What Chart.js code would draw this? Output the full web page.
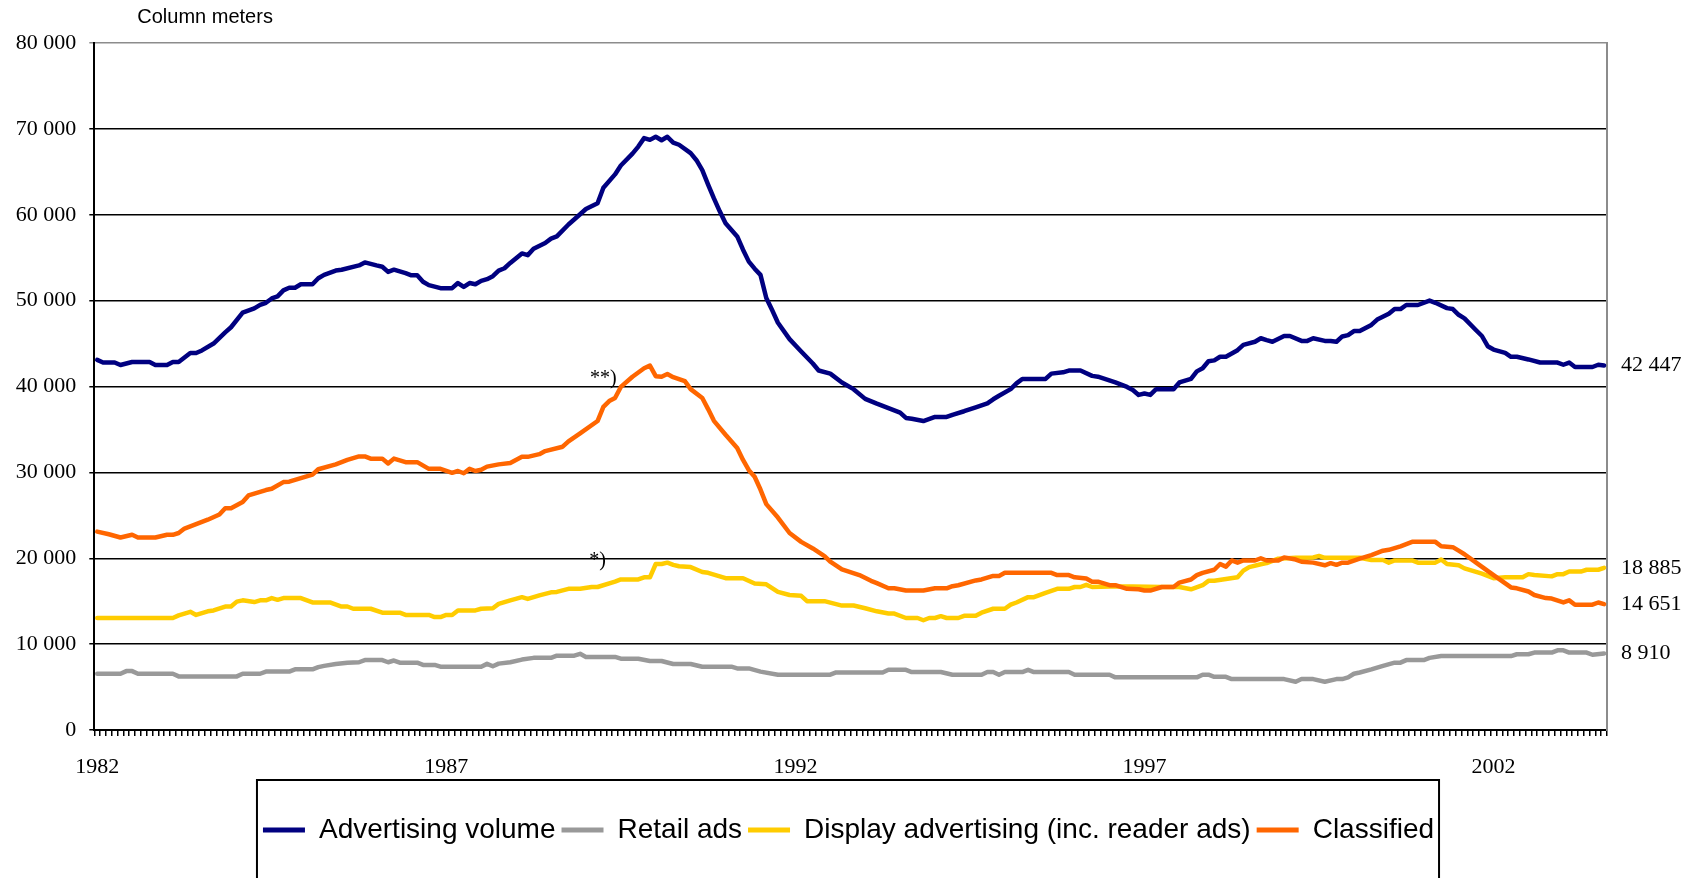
<!DOCTYPE html>
<html><head><meta charset="utf-8">
<script src="https://cdn.jsdelivr.net/npm/chart.js@4/dist/chart.umd.min.js"></script>
<style>html,body{margin:0;padding:0;background:#fff;}#wrap{width:1687px;height:878px;position:relative;}</style>
</head><body><div id="wrap"><canvas id="c" width="1687" height="878"></canvas></div>
<script>
// Categories: monthly, Jan 1982 .. Aug 2003 (260 months)
const months = [];
for (let i = 0; i < 260; i++) {
  months.push((1982 + Math.floor(i / 12)) + '-' + String(i % 12 + 1).padStart(2, '0'));
}
const tickLabels = ['1982', '1987', '1992', '1997', '2002'];

// Advertising volume (month index, column meters)
const advIdx = [0,1,3,4,6,9,10,12,13,14,16,17,18,20,22,23,25,27,28,29,30,31,32,33,34,35,37,38,39,41,42,45,46,48,49,50,51,53,54,55,56,57,59,61,62,63,64,65,66,67,68,69,70,71,73,74,75,77,78,79,81,83,84,86,87,89,90,92,93,94,95,96,97,98,99,100,102,103,104,105,106,107,108,110,111,112,113,114,115,116,117,119,121,123,124,126,128,130,132,134,136,138,139,140,142,144,146,147,149,151,153,154,155,157,158,159,163,164,166,167,169,171,172,175,177,178,179,180,181,182,185,186,188,189,190,191,192,193,194,196,197,199,200,201,202,204,205,207,208,209,211,212,213,214,215,216,217,219,220,222,223,224,225,227,229,230,232,233,234,235,237,238,239,240,242,243,244,246,248,251,252,253,254,257,258,259];
const advVal = [43100,42800,42800,42500,42850,42850,42500,42500,42850,42850,43900,43900,44200,45000,46300,46900,48600,49100,49500,49750,50250,50500,51200,51500,51500,51900,51900,52600,53000,53500,53600,54100,54450,54100,53950,53350,53600,53200,52950,52950,52200,51800,51450,51450,52050,51600,52050,51900,52300,52500,52840,53500,53770,54390,55500,55300,56030,56710,57220,57480,58870,60060,60670,61340,63150,64700,65730,67120,67940,68920,68720,69080,68670,69080,68410,68150,67170,66350,65200,63500,61900,60400,59020,57480,55930,54540,53720,53000,50300,48900,47430,45520,44080,42680,41860,41500,40470,39690,38560,38000,37480,36960,36340,36240,35980,36450,36450,36700,37120,37580,38040,38510,38920,39690,40360,40880,40880,41500,41650,41860,41860,41240,41140,40470,39950,39590,39020,39180,39020,39690,39690,40470,40880,41760,42120,42940,43040,43460,43460,44230,44850,45210,45620,45400,45210,45880,45880,45310,45310,45620,45310,45310,45210,45830,45980,46450,46450,47170,47790,48460,49020,49020,49490,49490,50000,49750,49130,49020,48350,47940,46550,45880,44690,44300,43920,43460,43460,43150,42790,42790,42530,42790,42270,42270,42530,42447];

// Retail ads
const retIdx = [0,4,5,6,7,13,14,24,25,28,29,33,34,37,38,39,41,43,45,46,49,50,51,52,55,56,58,59,66,67,68,69,71,73,75,78,79,82,83,84,89,90,93,95,97,99,102,104,109,110,112,114,117,126,127,135,136,139,140,145,147,152,153,154,155,156,159,160,161,167,168,174,175,189,190,191,192,194,195,201,204,206,207,209,211,213,214,215,216,217,219,221,223,224,225,228,229,231,243,244,246,247,250,251,252,253,256,257,259];
const retVal = [6550,6550,6860,6860,6550,6550,6240,6240,6550,6550,6800,6800,7060,7060,7320,7470,7680,7840,7890,8140,8140,7890,8090,7840,7840,7580,7580,7370,7370,7700,7420,7730,7890,8200,8400,8400,8660,8660,8870,8510,8510,8300,8300,8040,8040,7680,7680,7370,7370,7170,7170,6800,6440,6440,6700,6700,7010,7010,6750,6750,6440,6440,6750,6750,6440,6750,6750,7010,6750,6750,6440,6440,6130,6130,6440,6440,6190,6190,5930,5930,5930,5620,5930,5930,5620,5930,5930,6130,6550,6700,7060,7470,7840,7840,8140,8140,8400,8610,8610,8820,8820,9020,9020,9280,9280,9020,9020,8760,8910];

// Display advertising (inc. reader ads)
const dspIdx = [0,13,14,16,17,19,20,22,23,24,25,27,28,29,30,31,32,35,37,40,42,43,44,47,49,52,53,57,58,59,60,61,62,65,66,68,69,71,73,74,76,78,79,81,83,85,86,89,90,93,94,95,96,97,98,99,100,102,104,105,108,111,113,115,117,119,121,122,125,128,130,132,134,136,137,139,141,142,143,144,145,146,148,149,151,152,154,156,157,158,160,161,163,165,167,168,169,170,171,174,178,183,186,188,190,191,192,194,196,197,198,200,201,203,206,209,210,211,217,219,221,222,223,226,227,230,231,232,234,235,238,240,242,245,246,247,250,251,252,253,255,256,258,259];
const dspVal = [13040,13040,13350,13760,13400,13820,13920,14380,14380,14950,15100,14900,15100,15100,15360,15160,15360,15360,14850,14850,14380,14380,14120,14120,13660,13660,13400,13400,13150,13150,13400,13400,13920,13920,14120,14180,14690,15100,15470,15260,15670,16030,16080,16440,16440,16650,16650,17270,17530,17530,17780,17780,19330,19330,19490,19230,19070,18970,18400,18300,17680,17680,17060,16960,16080,15720,15620,15000,15000,14490,14490,14180,13820,13560,13560,13040,13040,12780,13040,13040,13250,13040,13040,13300,13300,13660,14120,14120,14590,14850,15470,15470,15980,16440,16440,16650,16650,16910,16650,16700,16700,16650,16650,16390,16860,17370,17370,17580,17780,18560,18970,19300,19430,19950,20050,20100,20260,20050,20050,19800,19800,19490,19740,19740,19490,19490,19850,19330,19180,18820,18200,17680,17780,17780,18150,18040,17890,18150,18150,18450,18450,18660,18660,18885];

// Classified
const clsIdx = [0,2,4,6,7,10,12,13,14,15,17,19,21,22,23,25,26,29,30,32,33,37,38,41,43,45,46,47,49,50,51,53,55,57,59,61,62,63,64,65,66,67,69,71,73,74,76,77,80,81,83,86,87,88,89,90,92,94,95,96,97,98,99,101,102,104,105,106,108,110,111,112,113,114,115,117,119,121,123,125,126,128,131,133,134,136,137,139,142,144,146,147,148,151,152,154,155,156,164,165,167,168,170,171,172,174,175,177,179,180,181,183,185,186,188,189,190,192,193,194,195,196,197,199,200,201,203,204,206,207,209,211,212,213,214,215,217,219,221,222,224,226,230,231,233,234,235,237,240,243,244,246,247,249,250,252,253,254,257,258,259];
const clsVal = [23100,22790,22420,22730,22420,22420,22730,22730,22940,23460,23970,24490,25100,25830,25830,26550,27320,27940,28090,28870,28920,29740,30360,30930,31450,31860,31860,31600,31600,31030,31600,31190,31190,30410,30410,29950,30160,29900,30410,30160,30300,30670,30930,31090,31810,31810,32120,32480,32990,33610,34540,35980,37630,38300,38660,39950,41140,42120,42430,41200,41140,41450,41090,40620,39690,38660,37370,36000,34380,32840,31450,30260,29490,28000,26300,24740,22940,21910,21140,20260,19600,18700,18040,17370,17100,16500,16500,16240,16240,16500,16500,16750,16860,17420,17530,17940,17940,18300,18300,18040,18040,17780,17630,17270,17270,16860,16860,16440,16390,16240,16240,16650,16650,17170,17530,18040,18300,18660,19330,19020,19740,19490,19740,19740,20000,19740,19740,20100,19850,19590,19490,19180,19430,19230,19490,19490,19950,20360,20880,20980,21390,21910,21910,21390,21290,20880,20470,19490,18040,16600,16500,16130,15720,15360,15310,14850,15100,14590,14590,14850,14651];

const fmt = v => String(v).replace(/\B(?=(\d{3})+(?!\d))/g, ' ');
const toPts = (idx, val) => idx.map((m, i) => ({x: months[m], y: val[i]}));
const SERIF = '"Liberation Serif", "Times New Roman", serif';
const SANS = '"Liberation Sans", Arial, sans-serif';

const extras = {
  id: 'extras',
  afterDraw(chart) {
    const c = chart.ctx, ca = chart.chartArea, ys = chart.scales.y, xs = chart.scales.x;
    c.save();
    c.fillStyle = '#000';
    // axis unit label
    c.font = '20px ' + SANS;
    c.textAlign = 'left'; c.textBaseline = 'middle';
    c.fillText('Column meters', ca.left + 43, 17);
    // end-value labels
    c.font = '22px ' + SERIF;
    chart.data.datasets.forEach(ds => {
      const last = ds.data[ds.data.length - 1].y;
      c.fillText(fmt(last), ca.right + 14, ys.getPixelForValue(last));
    });
    // footnote markers
    c.font = '20px ' + SERIF;
    c.textAlign = 'center';
    c.fillText('**)', xs.getPixelForValue(87), ys.getPixelForValue(40900));
    c.fillText('*)', xs.getPixelForValue(86), ys.getPixelForValue(19700));
    // legend frame
    const lg = chart.legend;
    if (lg && lg.legendHitBoxes && lg.legendHitBoxes.length) {
      const hb = lg.legendHitBoxes;
      const l = hb[0].left - 6;
      const r = hb[hb.length - 1].left + hb[hb.length - 1].width + 5;
      c.strokeStyle = '#000'; c.lineWidth = 2;
      c.strokeRect(l, lg.top - 30, r - l, 200);
    }
    c.restore();
  }
};

new Chart(document.getElementById('c'), {
  type: 'line',
  data: {
    labels: months,
    datasets: [
      {label: 'Advertising volume', data: toPts(advIdx, advVal), borderColor: '#000080', backgroundColor: '#000080', order: 3},
      {label: 'Retail ads', data: toPts(retIdx, retVal), borderColor: '#999999', backgroundColor: '#999999', order: 2},
      {label: 'Display advertising (inc. reader ads)', data: toPts(dspIdx, dspVal), borderColor: '#FFCC00', backgroundColor: '#FFCC00', order: 1},
      {label: 'Classified', data: toPts(clsIdx, clsVal), borderColor: '#FF6600', backgroundColor: '#FF6600', order: 0}
    ]
  },
  options: {
    responsive: false,
    animation: false,
    events: [],
    elements: {
      line: {borderWidth: 4.5, tension: 0, borderJoinStyle: 'round', borderCapStyle: 'round', fill: false},
      point: {radius: 0, hoverRadius: 0}
    },
    layout: {padding: {left: 10, right: 0, top: 43, bottom: 24}, autoPadding: false},
    scales: {
      x: {
        type: 'category', offset: true,
        grid: {display: true, drawOnChartArea: false, drawTicks: true, tickLength: 6, color: '#000', lineWidth: 1.5, offset: true},
        border: {display: true, color: '#000', width: 2},
        ticks: {autoSkip: false, maxRotation: 0, minRotation: 0, padding: 18, color: '#000',
          font: {family: SERIF, size: 22},
          callback: (v, i) => (i % 60 === 0 ? tickLabels[i / 60] : '')},
        afterFit: s => { s.height = 80; }
      },
      y: {
        min: 0, max: 80000,
        ticks: {stepSize: 10000, padding: 13, color: '#000',
          font: {family: SERIF, size: 22},
          callback: v => fmt(v)},
        grid: {color: ctx => (ctx.tick && ctx.tick.value === 80000 ? '#8c8c8c' : '#000'), lineWidth: 1.5, tickLength: 5, drawTicks: true},
        border: {display: true, color: '#000', width: 2},
        afterFit: s => { s.width = 84.3; }
      },
      yR: {
        position: 'right', min: 0, max: 80000, display: true,
        ticks: {display: false}, grid: {display: false, drawTicks: false},
        border: {display: true, color: '#8c8c8c', width: 2},
        afterFit: s => { s.width = 80; }
      }
    },
    plugins: {
      legend: {
        position: 'bottom',
        labels: {
          font: {family: SANS, size: 28},
          color: '#000', boxWidth: 42, boxHeight: 5, padding: 6,
          generateLabels: chart => chart.data.datasets.map((ds, i) => ({
            text: ds.label, fillStyle: ds.borderColor, strokeStyle: ds.borderColor,
            lineWidth: 0, hidden: false, datasetIndex: i, fontColor: '#000'
          }))
        }
      },
      tooltip: {enabled: false}
    }
  },
  plugins: [extras]
});
</script>
</body></html>
